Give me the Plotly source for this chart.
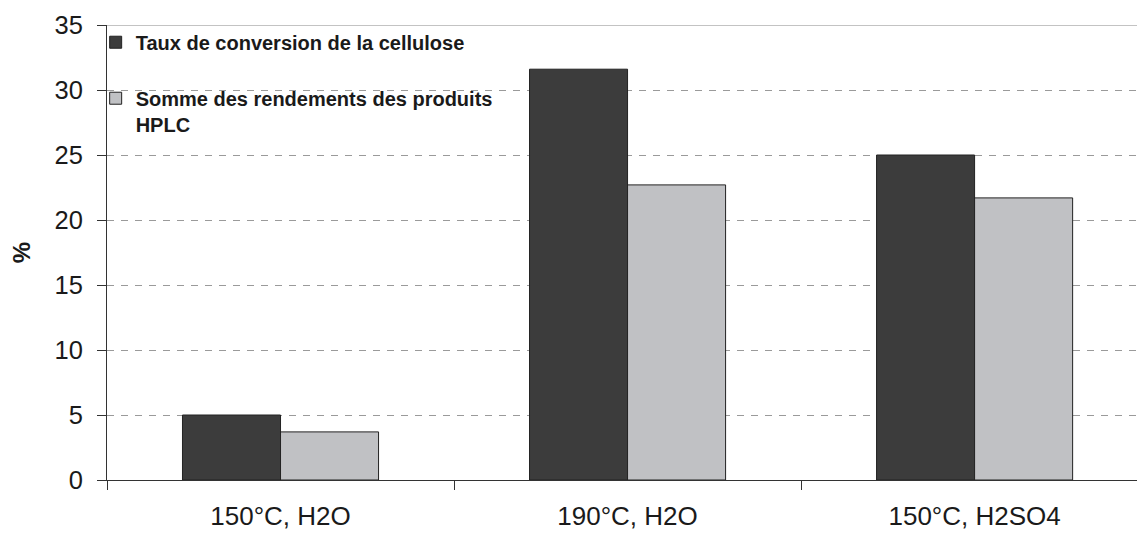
import plotly.graph_objects as go

# Reaction conditions on the horizontal axis
conditions = ["150°C, H2O", "190°C, H2O", "150°C, H2SO4"]

# Series values (%)
conversion_cellulose = [5.0, 31.6, 25.0]
somme_rendements_hplc = [3.7, 22.7, 21.7]

series_names = [
    "Taux de conversion de la cellulose",
    "Somme des rendements des produits<br>HPLC",
]

FONT = "Liberation Sans, Arial, sans-serif"
DARK = "#3c3c3c"
LIGHT = "#c0c1c4"
EDGE = "#222222"

fig = go.Figure()
fig.add_trace(go.Bar(
    x=conditions, y=conversion_cellulose, name=series_names[0],
    marker=dict(color=DARK, line=dict(color=EDGE, width=1)),
    legendgroup="a",
))
fig.add_trace(go.Bar(
    x=conditions, y=somme_rendements_hplc, name=series_names[1],
    marker=dict(color=LIGHT, line=dict(color=EDGE, width=1)),
    legendgroup="b",
))

fig.update_layout(
    width=1137, height=534,
    margin=dict(l=107, r=0, t=25, b=54),
    paper_bgcolor="white", plot_bgcolor="white",
    barmode="group", bargap=0.435, bargroupgap=0,
    font=dict(family=FONT, color="#1a1a1a"),
    showlegend=True,
    legend=dict(
        x=-0.011, y=1.005, xanchor="left", yanchor="top",
        xref="paper", yref="paper",
        bgcolor="rgba(0,0,0,0)",
        font=dict(family=FONT, size=20, color="#1a1a1a", weight="bold"),
        traceorder="grouped", tracegroupgap=27,
        valign="top", itemclick=False,
    ),
    xaxis=dict(
        range=[-0.5, 2.468],
        tickson="boundaries",
        ticks="outside", ticklen=9, tickcolor="#333333", tickwidth=1,
        showline=True, linecolor="#333333", linewidth=1,
        showgrid=False, zeroline=False,
        tickfont=dict(family=FONT, size=26, color="#1a1a1a"),
        ticklabelstandoff=13,
    ),
    yaxis=dict(
        range=[0, 35], dtick=5, tick0=0,
        ticks="outside", ticklen=9, tickcolor="#333333", tickwidth=1,
        showline=True, linecolor="#333333", linewidth=1,
        showgrid=True, gridcolor="#9a9a9a", gridwidth=1, griddash="7px,7px",
        zeroline=False,
        tickfont=dict(family=FONT, size=25.5, color="#1a1a1a"),
        ticklabelstandoff=9,
        title=dict(text="<b>%</b>", font=dict(family=FONT, size=24, color="#1a1a1a"),
                   standoff=17),
    ),
)

# Solid top border of the plotting area at the axis maximum
fig.add_shape(type="line", xref="paper", yref="y", x0=0, x1=1, y0=35, y1=35,
              line=dict(color="#888888", width=1))

fig.write_html("out.html")
